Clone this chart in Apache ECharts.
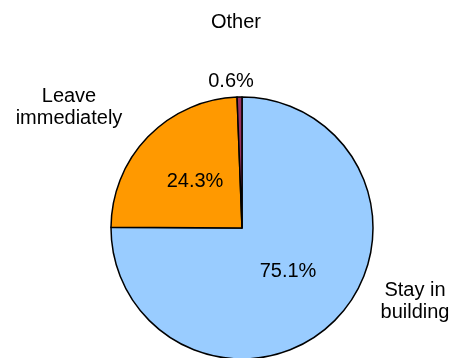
<!DOCTYPE html>
<html>
<head>
<meta charset="utf-8">
<script src="https://cdn.jsdelivr.net/npm/echarts@6/dist/echarts.min.js"></script>
<style>
  html, body { margin: 0; padding: 0; background: #fff; }
  #chart { width: 455px; height: 358px; }
</style>
</head>
<body>
<div id="chart"></div>
<script>
// Reaction to the alarm: share of respondents (%)
const categories = ['Stay in\nbuilding', 'Leave\nimmediately', 'Other'];
const shares = [75.1, 24.3, 0.6];
const colors = ['#99CCFF', '#FF9900', '#993366'];

// label anchor points (pixels) for the percentage and the name of each slice
const pctPos = [[288, 271], [195, 181], [231, 81]];
const namePos = [[415, 301], [69, 107], [236, 22]];

const font = '"Liberation Sans", Arial, sans-serif';

const data = categories.map((name, i) => ({
  name: name,
  value: shares[i],
  itemStyle: { color: colors[i] }
}));

const chart = echarts.init(document.getElementById('chart'), null, { renderer: 'canvas' });
chart.setOption({
  animation: false,
  series: [
    {
      type: 'pie',
      center: [242, 228],
      radius: 131,
      startAngle: 90,
      clockwise: true,
      data: data,
      itemStyle: { borderColor: '#000', borderWidth: 1.5 },
      label: {
        show: true,
        position: 'inside',
        formatter: p => p.value.toFixed(1) + '%',
        color: '#000',
        fontFamily: font,
        fontSize: 20,
        overflow: 'none'
      },
      labelLine: { show: false },
      labelLayout: p => ({
        x: pctPos[p.dataIndex][0],
        y: pctPos[p.dataIndex][1],
        align: 'center',
        verticalAlign: 'middle'
      }),
      emphasis: { disabled: true }
    },
    {
      type: 'pie',
      center: [242, 228],
      radius: 131,
      startAngle: 90,
      clockwise: true,
      silent: true,
      data: data.map(d => ({ name: d.name, value: d.value })),
      itemStyle: { color: 'rgba(0,0,0,0)', borderWidth: 0 },
      label: {
        show: true,
        position: 'inside',
        formatter: '{b}',
        color: '#000',
        fontFamily: font,
        fontSize: 20,
        lineHeight: 22,
        align: 'center',
        overflow: 'none'
      },
      labelLine: { show: false },
      labelLayout: p => ({
        x: namePos[p.dataIndex][0],
        y: namePos[p.dataIndex][1],
        align: 'center',
        verticalAlign: 'middle'
      }),
      emphasis: { disabled: true }
    }
  ]
});
</script>
</body>
</html>
